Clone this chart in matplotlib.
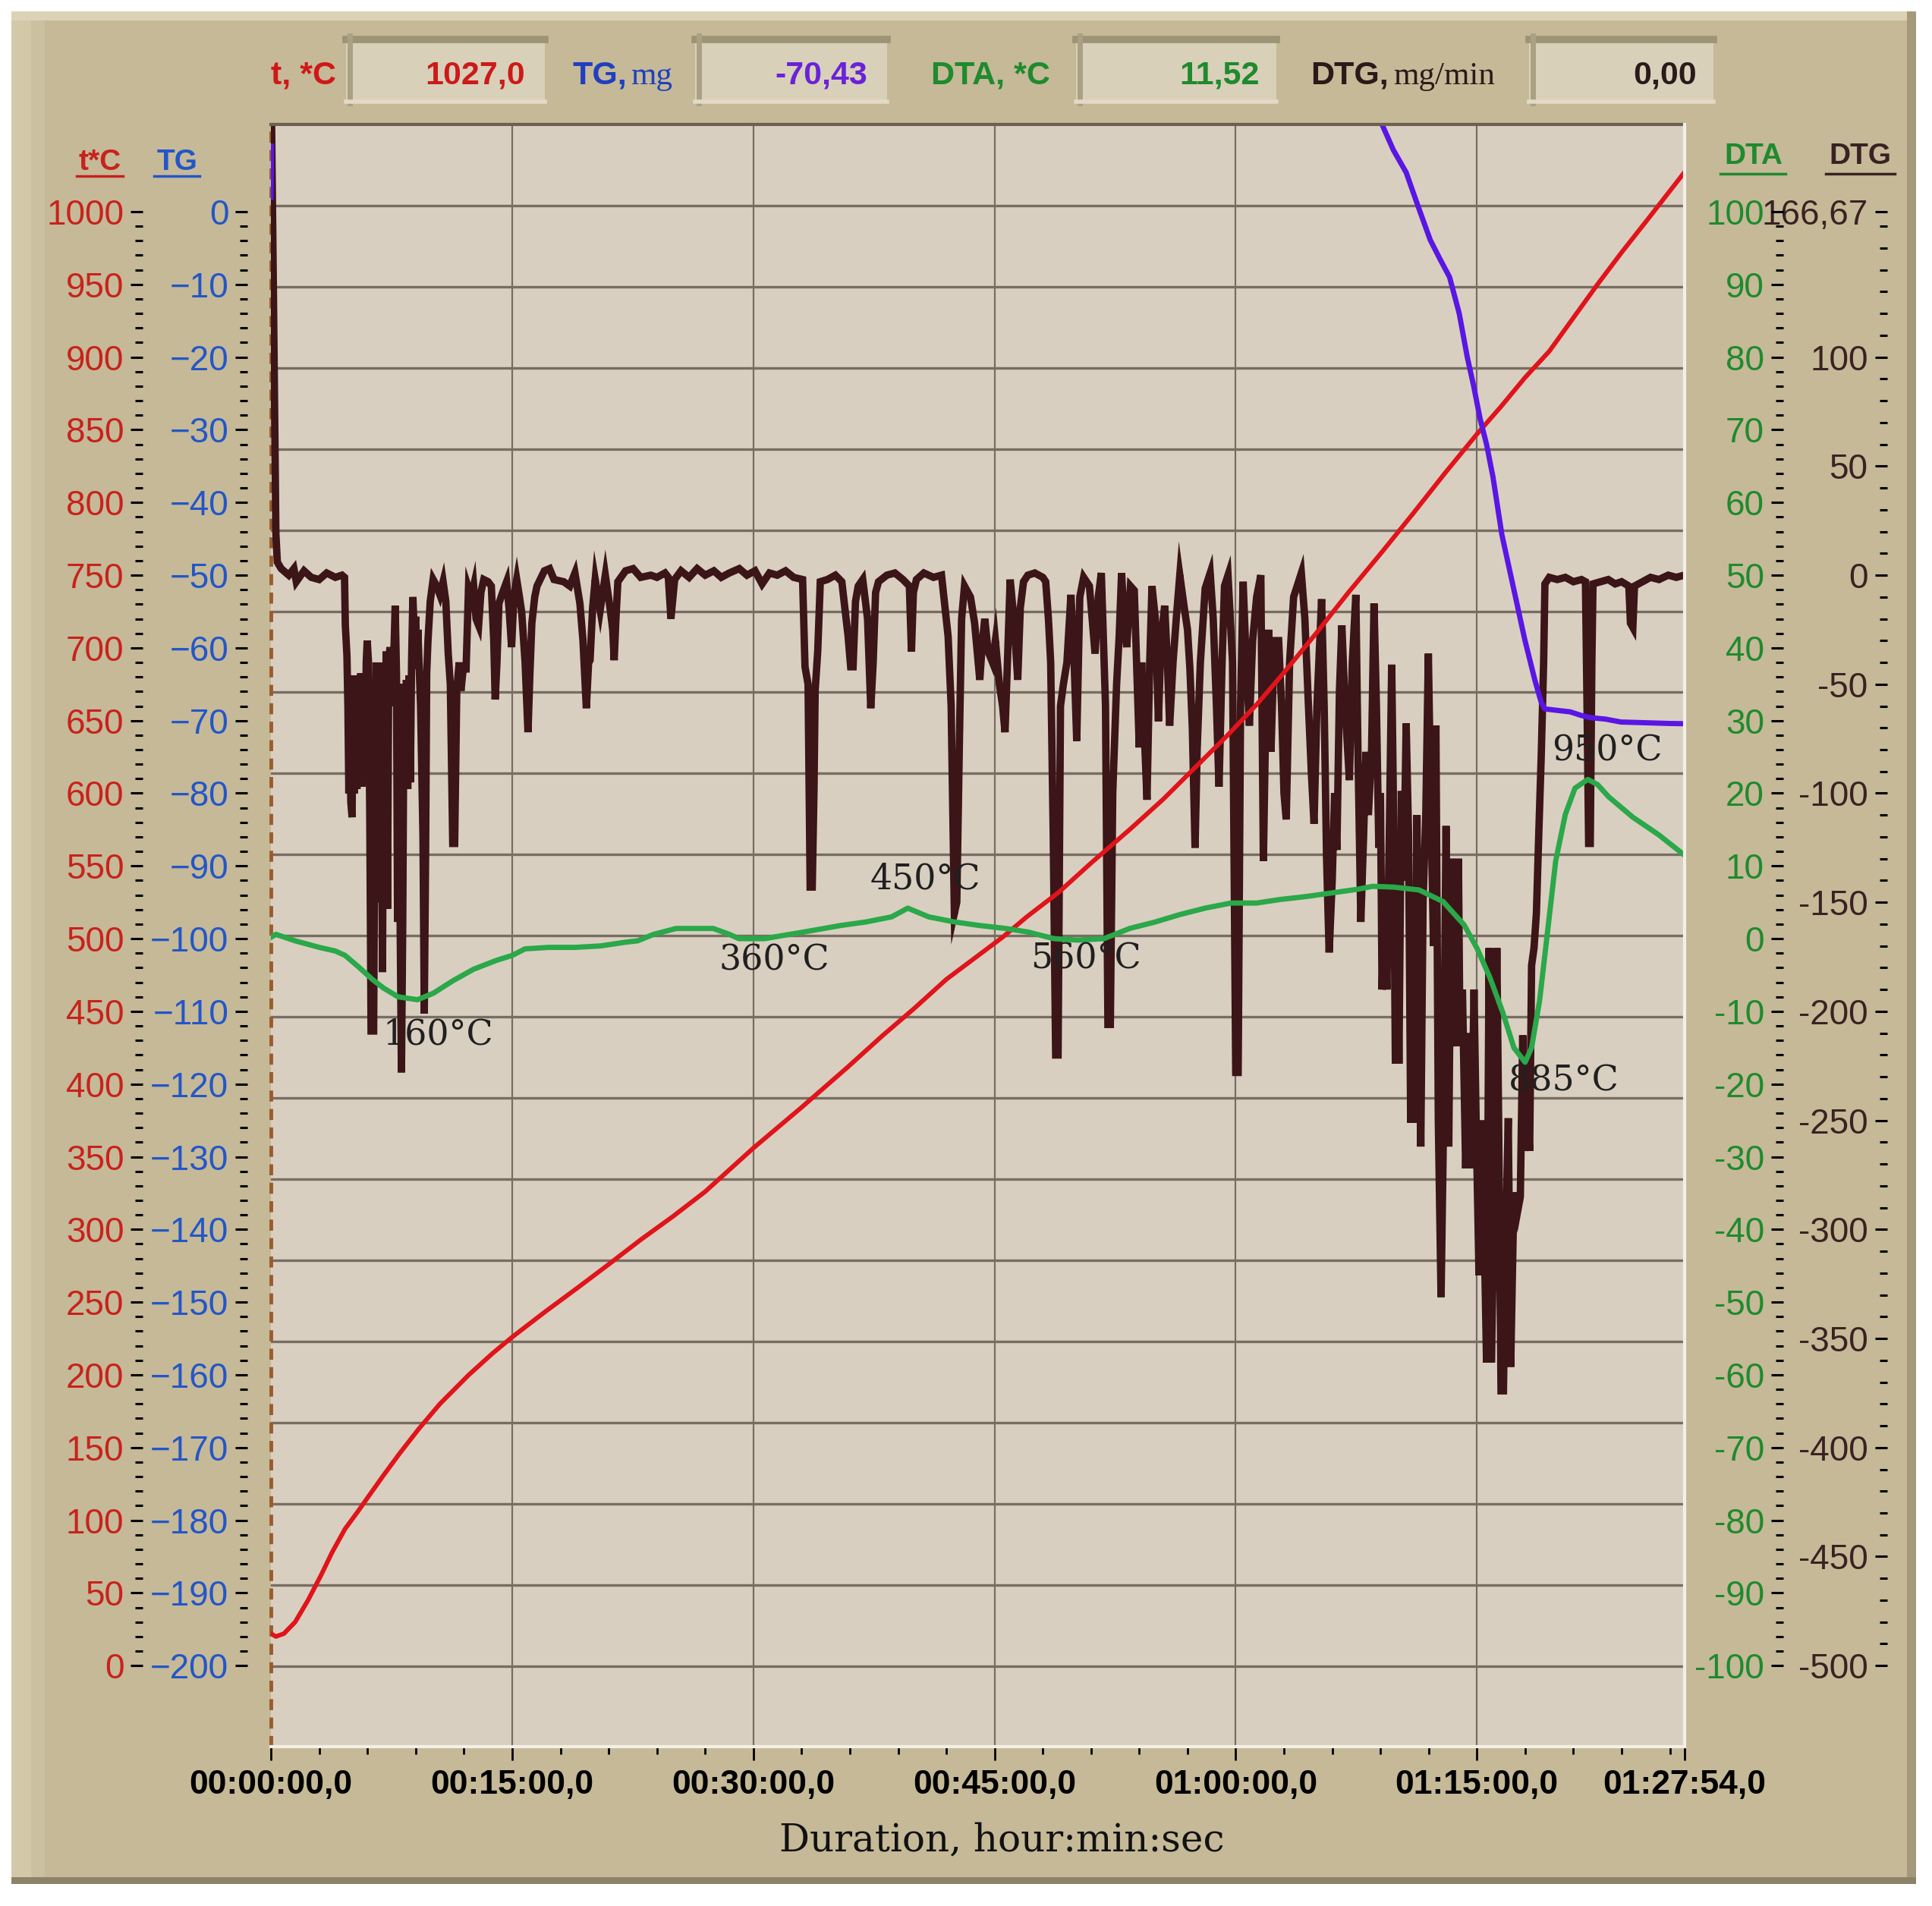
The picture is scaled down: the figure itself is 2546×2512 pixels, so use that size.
import numpy as np
import matplotlib
matplotlib.use("Agg")
import matplotlib.pyplot as plt
from matplotlib.patches import Rectangle
from matplotlib.lines import Line2D
from matplotlib.ticker import FixedLocator, FixedFormatter

plt.rcParams["font.family"] = ["Liberation Sans", "DejaVu Sans"]

# ---------------- values (time in minutes) ----------------
temp_time = [0.0, 0.3, 0.8, 1.5, 2.3, 3.1, 3.8, 4.6, 5.4, 6.1, 7.0, 8.0, 9.2, 10.5, 12.3,
             13.8, 15.0, 17.0, 19.2, 21.0, 23.0, 25.0, 27.0, 30.0, 33.0, 35.9, 38.0, 40.0,
             42.0, 45.5, 47.0, 49.0, 51.0, 53.4, 55.5, 57.5, 59.5, 61.3, 63.0, 65.0, 67.0,
             69.1, 71.0, 73.0, 75.0, 76.5, 78.0, 79.5, 81.0, 82.5, 84.0, 85.5, 87.9]
temp_val = [22, 20, 22, 30, 45, 62, 78, 94, 106, 117, 131, 146, 163, 180, 200,
            215, 226, 243, 261, 276, 293, 309, 326, 356, 384, 412, 433, 452,
            472, 501, 515, 532, 552, 575, 596, 618, 640, 661, 683, 710, 738,
            766, 792, 820, 847, 866, 886, 904, 927, 950, 972, 993, 1027]

tg_time = [0.0, 0.03, 0.06, 68.6, 69.1, 69.8, 70.6, 71.3, 72.1, 72.7, 73.3, 73.9, 74.4,
           74.8, 75.2, 75.6, 76.0, 76.55, 77.34, 77.97, 78.6, 79.0, 79.23, 80.0, 80.8,
           81.5, 82.07, 83.0, 83.96, 85.5, 87.0, 87.9]
tg_val = [2, 9, np.nan, 22, 12, 8.5, 5.4, 1.0, -3.9, -6.5, -9.0, -14, -20,
          -24, -28.5, -32, -36.5, -44.4, -52.4, -58.8, -64.4, -67.5, -68.4, -68.6, -68.8,
          -69.3, -69.6, -69.8, -70.2, -70.3, -70.4, -70.43]

dta_time = [0.0, 0.3, 1.5, 3.0, 4.0, 4.6, 5.4, 6.3, 7.0, 7.9, 9.1, 10.1, 11.3, 12.6, 14.0,
            15.0, 15.8, 17.3, 18.9, 20.5, 22.0, 22.8, 23.8, 25.2, 27.5, 28.5, 29.1, 30.7,
            32.0, 33.1, 35.4, 37.0, 38.6, 39.6, 40.9, 42.5, 44.1, 45.7, 47.1, 48.7, 50.2,
            51.8, 53.4, 55.0, 56.5, 58.1, 59.7, 61.3, 62.8, 64.4, 66.0, 67.6, 68.5, 69.8,
            71.4, 72.9, 74.2, 75.0, 75.8, 76.6, 77.3, 78.0, 78.4, 78.9, 79.4, 79.9, 80.5,
            81.1, 81.9, 82.5, 83.2, 84.7, 86.3, 87.9]
dta_val = [0.2, 0.6, -0.3, -1.2, -1.7, -2.3, -3.8, -5.6, -6.8, -8.0, -8.4, -7.5, -5.8, -4.2, -3.0,
           -2.3, -1.4, -1.2, -1.2, -1.0, -0.5, -0.3, 0.6, 1.4, 1.4, 0.6, 0.0, 0.0,
           0.5, 0.9, 1.8, 2.3, 3.0, 4.2, 3.0, 2.3, 1.8, 1.4, 0.9, 0.0, -0.2,
           0.0, 1.4, 2.3, 3.3, 4.2, 4.9, 4.9, 5.4, 5.8, 6.3, 6.8, 7.2, 7.1,
           6.7, 5.1, 1.9, -1.3, -5.3, -10.1, -15.0, -17.0, -15.0, -8.5, 1.1, 10.7, 17.1,
           20.7, 21.9, 21.2, 19.5, 16.7, 14.3, 11.5]

# DTG trace, in four stretches (0-24, 24-46, 46-68.5, 68.5-87.9 min)
dtg_time_1 = [0.0, 0.16, 0.3, 0.39, 0.63, 1.1, 1.42, 1.57, 2.05, 2.5, 2.99, 3.46, 4.0, 4.41, 4.57,
              4.62, 4.72, 4.78, 4.84, 4.9, 4.96, 5.04, 5.1, 5.18, 5.26, 5.34, 5.42, 5.5, 5.58,
              5.66, 5.74, 5.84, 5.92, 5.98, 6.06, 6.14, 6.22, 6.38, 6.46, 6.54, 6.61, 6.7,
              6.78, 6.86, 6.93, 7.02, 7.09, 7.16, 7.24, 7.32, 7.4, 7.55, 7.72, 7.8, 7.87,
              7.95, 8.03, 8.11, 8.19, 8.27, 8.35, 8.42, 8.5, 8.58, 8.66, 8.74, 8.82, 8.9,
              9.0, 9.06, 9.13, 9.3, 9.45, 9.53, 9.61, 9.68, 9.76, 9.9, 10.08, 10.3, 10.5,
              10.7, 10.87, 11.02, 11.15, 11.3, 11.42, 11.55, 11.7, 11.81, 11.95, 12.13,
              12.28, 12.45, 12.6, 12.75, 12.91, 13.05, 13.23, 13.5, 13.7, 13.85, 13.94,
              14.05, 14.17, 14.4, 14.65, 14.8, 14.96, 15.1, 15.28, 15.45, 15.59, 15.8,
              15.98, 16.1, 16.22, 16.4, 16.54, 17.0, 17.32, 17.6, 18.2, 18.58, 18.9,
              19.21, 19.4, 19.61, 19.75, 19.84, 20.0, 20.16, 20.47, 20.79, 21.1, 21.25,
              21.34, 21.45, 21.57, 22.05, 22.52, 22.99, 23.62]
dtg_val_1 = [230, 120, 19, 6, 3, 0, 3, -3, 2, -1, -2, 1, -1, 0, -1,
             -23, -37, -60, -100, -50, -104, -111, -46, -100, -47, -98, -46, -97, -45,
             -97, -46, -95, -40, -30, -40, -110, -209, -209, -100, -40, -87, -40,
             -150, -90, -182, -40, -90, -35, -153, -40, -33, -60, -14, -45, -159,
             -50, -160, -228, -159, -50, -97, -48, -98, -46, -95, -40, -10, -25,
             -19, -43, -25, -60, -120, -201, -130, -45, -30, -12, -2, -5, -9,
             -3, -12, -36, -50, -123, -123, -53, -40, -53, -43, -43,
             -6, -10, -5, -20, -23, -8, -2, -3, -5, -30, -57,
             -40, -13, -8, -3, -15, -33, -10, -2, -10, -17, -40,
             -72, -45, -22, -10, -5, 2, 3, -2, -3, -5, 1,
             -13, -30, -61, -40, -39, -15, -2, -16, 0, -16, -25,
             -39, -20, -3, 2, 3, -1, 0]

dtg_time_2 = [24.0, 24.5, 24.71, 24.87, 25.1, 25.5, 26.0, 26.5, 27.0, 27.54, 28.0, 28.5,
              29.12, 29.6, 30.1, 30.54, 31.0, 31.48, 32.0, 32.5, 33.06, 33.21, 33.4,
              33.53, 33.66, 33.77, 33.84, 34.0, 34.16, 34.6, 35.1, 35.5, 35.89, 36.05,
              36.2, 36.35, 36.52, 36.8, 37.1, 37.3, 37.45, 37.6, 37.78, 38.3, 38.8,
              39.3, 39.7, 39.83, 39.95, 40.14, 40.6, 41.2, 41.7, 42.11, 42.3, 42.5,
              42.65, 42.82, 42.95, 43.13, 43.5, 43.76, 44.08, 44.25, 44.39, 44.6,
              44.87, 45.05, 45.3, 45.5, 45.65, 45.8]
dtg_val_2 = [-1, 1, -1, -20, -2, 2, -1, 3, 0, 2, -1, 1,
             3, 0, 2, -4, 1, 0, 2, -1, -2, -42, -50,
             -143, -143, -98, -53, -35, -3, -2, 0, -3, -28, -42,
             -42, -12, -5, -2, -20, -61, -40, -8, -3, 0, 1,
             -2, -5, -35, -8, -2, 1, -1, 0, -28, -60, -155,
             -150, -73, -20, -5, -10, -22, -48, -30, -20, -35,
             -40, -30, -50, -60, -72, -40]

dtg_time_3 = [45.97, 46.2, 46.44, 46.6, 46.8, 47.07, 47.5, 48.0, 48.18, 48.35, 48.49, 48.65,
              48.8, 48.95, 49.1, 49.28, 49.5, 49.75, 49.95, 50.11, 50.3, 50.54, 50.9, 51.25,
              51.45, 51.64, 51.9, 52.05, 52.2, 52.35, 52.59, 52.75, 52.9, 53.05, 53.22,
              53.45, 53.69, 54.0, 54.15, 54.3, 54.48, 54.65, 54.79, 55.0, 55.19, 55.35,
              55.58, 55.75, 55.89, 56.1, 56.3, 56.52, 56.8, 57.0, 57.15, 57.3, 57.47, 57.6,
              57.8, 58.1, 58.41, 58.6, 58.8, 58.96, 59.15, 59.3, 59.52, 59.8, 60.0, 60.15,
              60.3, 60.46, 60.65, 60.85, 61.05, 61.3, 61.56, 61.72, 61.9, 62.05, 62.19,
              62.4, 62.67, 62.85, 63.0, 63.14, 63.35, 63.6, 64.08, 64.3, 64.5, 64.7, 64.87,
              65.05, 65.34, 65.5, 65.65, 65.81, 66.0, 66.15, 66.29, 66.45, 66.6, 66.8,
              67.07, 67.25, 67.47, 67.6, 67.78, 67.95, 68.1, 68.25, 68.45]
dtg_val_3 = [-2, -20, -48, -15, -3, 0, 1, -1, -3, -20, -40, -120,
             -220, -220, -60, -50, -40, -9, -40, -76, -10, -1, -5, -36,
             -10, 1, -60, -206, -206, -100, -50, -28, 1, -20, -33,
             -5, -7, -79, -40, -70, -103, -40, -5, -20, -67, -30,
             -14, -40, -69, -40, -20, 0, -15, -25, -43, -70, -125, -80,
             -40, -6, 1, -20, -60, -97, -40, -5, 0, -40, -228, -228,
             -60, -3, -40, -69, -30, -10, 0, -131, -50, -25, -81,
             -30, -30, -60, -100, -112, -40, -10, 1, -20, -56, -90, -114,
             -60, -11, -60, -130, -173, -140, -100, -126, -53, -23, -60,
             -94, -40, -9, -80, -159, -120, -81, -110, -80]

dtg_time_4 = [68.6, 68.75, 68.9, 69.0, 69.1, 69.25, 69.4, 69.55, 69.7, 69.8, 69.93, 70.05,
              70.15, 70.3, 70.45, 70.6, 70.75, 70.88, 71.0, 71.11, 71.27, 71.4, 71.51,
              71.65, 71.82, 71.98, 72.1, 72.3, 72.45, 72.6, 72.77, 72.9, 73.08, 73.25,
              73.4, 73.55, 73.71, 73.85, 73.95, 74.1, 74.3, 74.5, 74.65, 74.82, 74.95,
              75.13, 75.3, 75.45, 75.6, 75.76, 75.9, 76.05, 76.24, 76.35, 76.5, 76.65,
              76.8, 76.95, 77.1, 77.26, 77.4, 77.55, 77.7, 77.85, 77.97, 78.1, 78.28,
              78.4, 78.55, 78.7, 78.85, 79.0, 79.15, 79.23, 79.5, 80.0, 80.5, 81.0, 81.5,
              81.75, 81.85, 81.95, 82.05, 82.15, 82.22, 82.7, 83.17, 83.6, 84.0, 84.45,
              84.55, 84.7, 84.8, 85.3, 85.8, 86.32, 86.9, 87.4, 87.9]
dtg_val_4 = [-13, -60, -125, -100, -190, -150, -190, -120, -41, -100, -224, -150,
             -224, -99, -140, -68, -120, -251, -160, -251, -110, -200, -262,
             -150, -110, -36, -90, -170, -69, -250, -331, -264, -115, -262,
             -130, -200, -216, -130, -216, -190, -272, -210, -272, -190, -250,
             -321, -250, -300, -361, -171, -361, -300, -171, -250, -374, -374,
             -300, -249, -363, -300, -283, -291, -285, -211, -264, -240, -264,
             -179, -171, -155, -118, -83, -40, -4, -1, -2, -1, -3, -2,
             -3, -60, -123, -123, -40, -4, -3, -2, -4, -3, -5,
             -22, -24, -5, -3, -1, -2, 0, -1, 0]

dtg_time = dtg_time_1 + dtg_time_2 + dtg_time_3 + dtg_time_4
dtg_val = dtg_val_1 + dtg_val_2 + dtg_val_3 + dtg_val_4

peak_labels = ["160°C", "360°C", "450°C", "560°C", "885°C", "950°C"]
peak_time = [10.4, 31.3, 40.7, 50.7, 80.4, 83.1]
peak_temp = [434, 485, 541, 486, 402, 629]

x_major = [0, 15, 30, 45, 60, 75, 87.9]
x_labels = ["00:00:00,0", "00:15:00,0", "00:30:00,0", "00:45:00,0",
            "01:00:00,0", "01:15:00,0", "01:27:54,0"]
temp_ticks = list(range(0, 1001, 50))
tg_ticks = list(range(0, -201, -10))
dta_ticks = list(range(100, -101, -10))
dtg_ticks = [166.67] + list(range(100, -501, -50))

readout_names = ["t, *C", "TG,", "DTA, *C", "DTG,"]
readout_values = ["1027,0", "-70,43", "11,52", "0,00"]

# ---------------- styling ----------------
PANEL = "#c5b997"
PLOT_BG = "#d9cfc1"
GRID = "#776d62"
RED = "#e0141a"
GREEN = "#2aa84a"
PURPLE = "#5a16e4"
DTG_C = "#3b1517"
LBL_RED = "#c8221c"
LBL_BLUE = "#2456c8"
LBL_GREEN = "#1f8a2e"
LBL_DARK = "#3a2222"

T_LIM = (-56, 1060)
TG_LIM = (T_LIM[0] / 5 - 200, T_LIM[1] / 5 - 200)
DTA_LIM = (T_LIM[0] / 5 - 100, T_LIM[1] / 5 - 100)
DTG_LIM = (T_LIM[0] * 2 / 3 - 500, T_LIM[1] * 2 / 3 - 500)

fig = plt.figure(figsize=(25.46, 25.12), dpi=100)
fig.patch.set_facecolor("white")


def frect(x0, y0, x1, y1, **kw):
    fig.add_artist(Rectangle((x0, y0), x1 - x0, y1 - y0, transform=fig.transFigure, **kw))


def fline(xs, ys, **kw):
    fig.add_artist(Line2D(xs, ys, transform=fig.transFigure, **kw))


# beveled panel
frect(0.0059, 0.0115, 0.9917, 0.994, fc=PANEL, ec="none", zorder=-5)
frect(0.0059, 0.0115, 0.0160, 0.994, fc="#d3c9a9", ec="none", zorder=-4)
frect(0.0160, 0.0115, 0.0230, 0.994, fc="#cbc09f", ec="none", zorder=-4)
frect(0.0059, 0.9893, 0.9917, 0.994, fc="#dcd3b6", ec="none", zorder=-4)
frect(0.9870, 0.0115, 0.9917, 0.994, fc="#a49a7b", ec="none", zorder=-4)
frect(0.0059, 0.0115, 0.9917, 0.0150, fc="#8c8369", ec="none", zorder=-4)

# readout boxes + texts
box_x = [(0.1792, 0.2819), (0.3597, 0.4592), (0.5568, 0.6607), (0.7915, 0.8870)]
name_x = [0.1741, 0.3246, 0.5434, 0.7188]
value_x = [0.2717, 0.4490, 0.6518, 0.8780]
name_c = ["#d01818", "#2040c0", "#1f8a2e", "#2a1a1a"]
value_c = ["#cc1a1a", "#6a22d8", "#1f8a2e", "#2a1a1a"]
BY0, BY1, BASE = 0.9457, 0.9813, 0.9560
for (x0, x1), nx, vx, nm, vl, nc, vc in zip(box_x, name_x, value_x, readout_names,
                                          readout_values, name_c, value_c):
    frect(x0, BY0, x1, BY1, fc="#d9d0b9", ec="none", zorder=-3)
    fline([x0, x1], [BY1 - 0.002, BY1 - 0.002], color="#9d9375", lw=7, zorder=-2)
    fline([x0 + 0.002, x0 + 0.002], [BY0, BY1], color="#aaa083", lw=5, zorder=-2)
    fline([x0, x1], [BY0 + 0.001, BY0 + 0.001], color="#e2dac6", lw=4, zorder=-2)
    fig.text(nx, BASE, nm, ha="right", va="baseline", color=nc, fontsize=31, weight="bold")
    fig.text(vx, BASE, vl, ha="right", va="baseline", color=vc, fontsize=31, weight="bold")
fig.text(0.3265, BASE, "mg", ha="left", va="baseline", color="#2040c0", fontsize=31,
         family="Liberation Serif")
fig.text(0.7213, BASE, "mg/min", ha="left", va="baseline", color="#2a1a1a", fontsize=31,
         family="Liberation Serif")

# axis titles with underline
for txt, cx, cy, x0, x1, uy, c in [("t*C", 0.0517, 0.9147, 0.0395, 0.0638, 0.9076, LBL_RED),
                                   ("TG", 0.0916, 0.9147, 0.0797, 0.1033, 0.9076, LBL_BLUE),
                                   ("DTA", 0.9075, 0.9179, 0.8903, 0.9241, 0.9089, LBL_GREEN),
                                   ("DTG", 0.9630, 0.9179, 0.9452, 0.9809, 0.9089, LBL_DARK)]:
    fig.text(cx, cy, txt, ha="center", va="center", color=c, fontsize=28, weight="bold")
    fline([x0, x1], [uy, uy], color=c, lw=2.5)

# ---------------- main plot ----------------
ax = fig.add_axes([0.1403, 0.0834, 0.7315, 0.8513])
ax.set_facecolor(PLOT_BG)
ax.set_xlim(0, 87.9)
ax.set_ylim(*T_LIM)
for s in ax.spines.values():
    s.set_visible(False)
for y in np.linspace(T_LIM[0], T_LIM[1], 21)[1:-1]:
    ax.axhline(y, color=GRID, lw=2.4, zorder=0.5)
for x in x_major[1:-1]:
    ax.axvline(x, color=GRID, lw=1.6, zorder=0.5)
ax.axvline(0, color="#9a5c2c", lw=3.5, ls=(0, (3, 2)), clip_on=False, zorder=1)

ax.set_xticks(x_major)
ax.set_xticklabels(x_labels)
ax.xaxis.set_minor_locator(FixedLocator(np.arange(0, 88, 3)))
ax.tick_params(axis="x", which="major", direction="out", length=13, width=2, color="black",
               pad=8, labelsize=32)
ax.tick_params(axis="x", which="minor", direction="out", length=7, width=2, color="black")
for lab in ax.get_xticklabels():
    lab.set_fontweight("bold")


def style_y(a, pos, ticks, labels, minor, color):
    for s in a.spines.values():
        s.set_visible(False)
    a.yaxis.set_ticks_position("left")
    a.spines["left"].set_position(("axes", pos))
    a.yaxis.set_major_locator(FixedLocator(ticks))
    a.yaxis.set_major_formatter(FixedFormatter(labels))
    a.yaxis.set_minor_locator(FixedLocator(minor))
    a.tick_params(axis="y", which="major", direction="out", length=11.5, width=2.2,
                  color="black", labelcolor=color, labelsize=33, pad=6.5)
    a.tick_params(axis="y", which="minor", direction="out", length=7, width=2.2, color="black")


style_y(ax, -0.0907, temp_ticks, [str(v) for v in temp_ticks],
        np.arange(0, 1001, 10), LBL_RED)

ax_dtg = ax.twinx()
ax_dtg.set_ylim(*DTG_LIM)
style_y(ax_dtg, 1.1434, dtg_ticks,
        [f"{v:g}".replace(".", ",") for v in dtg_ticks],
        np.arange(-500, 161, 10), LBL_DARK)
ax_dtg.plot(dtg_time, dtg_val, color=DTG_C, lw=7, solid_joinstyle="miter",
            solid_capstyle="butt")

ax_red = ax.twinx()
ax_red.set_ylim(*T_LIM)
for s in ax_red.spines.values():
    s.set_visible(False)
ax_red.yaxis.set_visible(False)
ax_red.plot(temp_time, temp_val, color=RED, lw=4.3)

ax_dta = ax.twinx()
ax_dta.set_ylim(*DTA_LIM)
style_y(ax_dta, 1.070, dta_ticks, [str(v) for v in dta_ticks],
        np.arange(-100, 101, 2), LBL_GREEN)
ax_dta.plot(dta_time, dta_val, color=GREEN, lw=5)

ax_tg = ax.twinx()
ax_tg.set_ylim(*TG_LIM)
style_y(ax_tg, -0.0166, tg_ticks, [str(v).replace("-", "\u2212") for v in tg_ticks],
        np.arange(-200, 1, 2), LBL_BLUE)
ax_tg.plot(tg_time, tg_val, color=PURPLE, lw=5)

for lab, t, T in zip(peak_labels, peak_time, peak_temp):
    ax_tg.text(t, T, lab, transform=ax.transData, family="DejaVu Serif", fontsize=33,
               color="#202020", ha="center", va="center")

# plot frame edges
ax_tg.plot([0, 1], [1, 1], transform=ax.transAxes, color="#6b6150", lw=3, clip_on=False)
ax_tg.plot([0, 1], [0, 0], transform=ax.transAxes, color="#f4efe6", lw=3, clip_on=False)
ax_tg.plot([1, 1], [0, 1], transform=ax.transAxes, color="#f4efe6", lw=3, clip_on=False)
ax.set_xlim(0, 87.9)

fig.text(0.5185, 0.0343, "Duration, hour:min:sec", ha="center", va="center",
         family="DejaVu Serif", fontsize=36, color="#111111")

fig.savefig("out.png", dpi=100)
